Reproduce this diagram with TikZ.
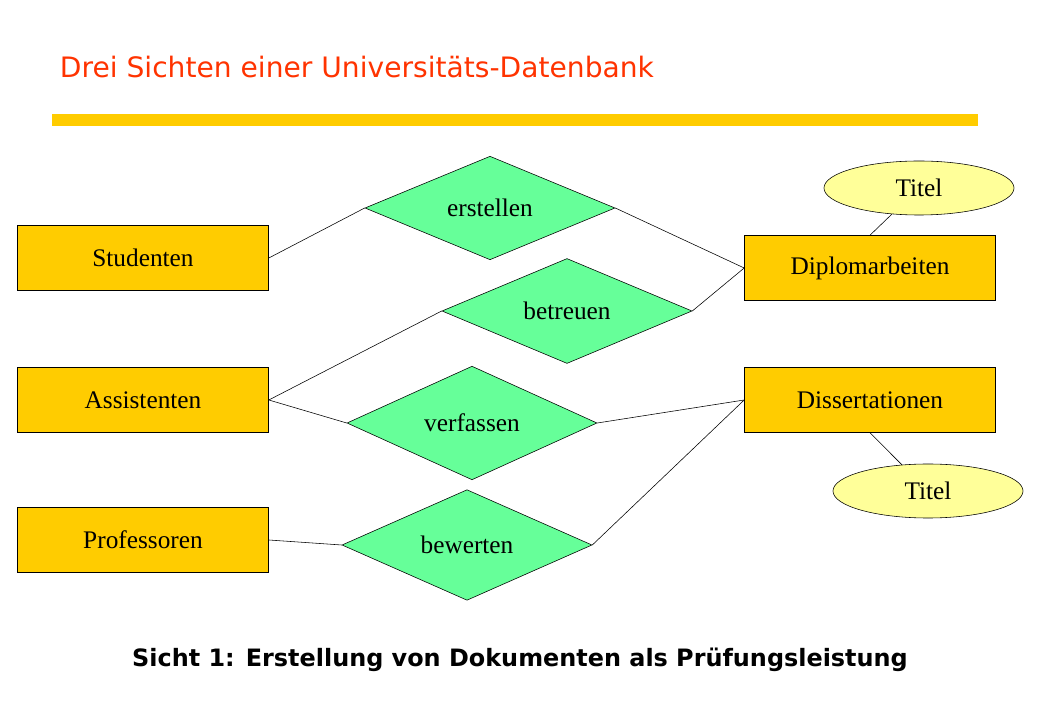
\documentclass[tikz,border=0pt]{standalone}
\usepackage{fontspec}
\setmainfont{Liberation Serif}
\newfontfamily\titlefont{DejaVu Sans}
\usetikzlibrary{shapes.geometric, positioning}
\definecolor{entityfill}{HTML}{FFCC00}
\definecolor{relfill}{HTML}{66FF99}
\definecolor{attrfill}{HTML}{FFFF99}
\definecolor{titlered}{HTML}{FF3300}

\begin{document}
\begin{tikzpicture}[x=0.025cm, y=-0.025cm,
  entity/.style={rectangle, draw, fill=entityfill,
    minimum width=6.275cm, minimum height=1.625cm,
    font=\fontsize{18}{20}\selectfont},
  relation/.style={diamond, draw, fill=relfill, inner sep=0pt,
    minimum width=6.25cm, minimum height=2.33cm,
    font=\fontsize{18}{20}\selectfont},
  attribute/.style={ellipse, draw, fill=attrfill,
    minimum width=4.75cm, minimum height=1.35cm,
    font=\fontsize{18}{20}\selectfont}]
  \useasboundingbox (0,0) rectangle (1040,720);

  % TITLE

  \node[anchor=base west, text=titlered,
    font=\titlefont\fontsize{20}{24}\selectfont] (title) at (55,78)
    {Drei Sichten einer Universitäts-Datenbank};
  \fill[entityfill] (52,114) rectangle (978,126);

  % ENTITIES

  \node[entity] (studenten) at (143,258) {Studenten};
  \node[entity] (assistenten) at (143,400) {Assistenten};
  \node[entity] (professoren) at (143,540) {Professoren};
  \node[entity] (diplom) at (870,268) {Diplomarbeiten};
  \node[entity] (diss) at (870,400) {Dissertationen};

  % RELATIONS

  \node[relation] (erstellen) at (490,208) {erstellen};
  \node[relation] (betreuen) at (567,311) {betreuen};
  \node[relation] (verfassen) at (472,423) {verfassen};
  \node[relation] (bewerten) at (467,545) {bewerten};

  % ATTRIBUTES

  \node[attribute] (titel1) at (919,188) {Titel};
  \node[attribute] (titel2) at (928,491) {Titel};

  % CONNECTIONS

  \draw (studenten.east) -- (erstellen.west);
  \draw (erstellen.east) -- (diplom.west);
  \draw (betreuen.east) -- (diplom.west);
  \draw (assistenten.east) -- (betreuen.west);
  \draw (assistenten.east) -- (verfassen.west);
  \draw (verfassen.east) -- (diss.west);
  \draw (professoren.east) -- (bewerten.west);
  \draw (bewerten.east) -- (diss.west);
  \draw (diplom.north) -- (titel1);
  \draw (diss.south) -- (titel2);

  % CAPTION

  \node[font=\titlefont\bfseries\fontsize{17}{20}\selectfont] (caption)
    at (520,660) {Sicht 1: Erstellung von Dokumenten als Prüfungsleistung};

\end{tikzpicture}
\end{document}
